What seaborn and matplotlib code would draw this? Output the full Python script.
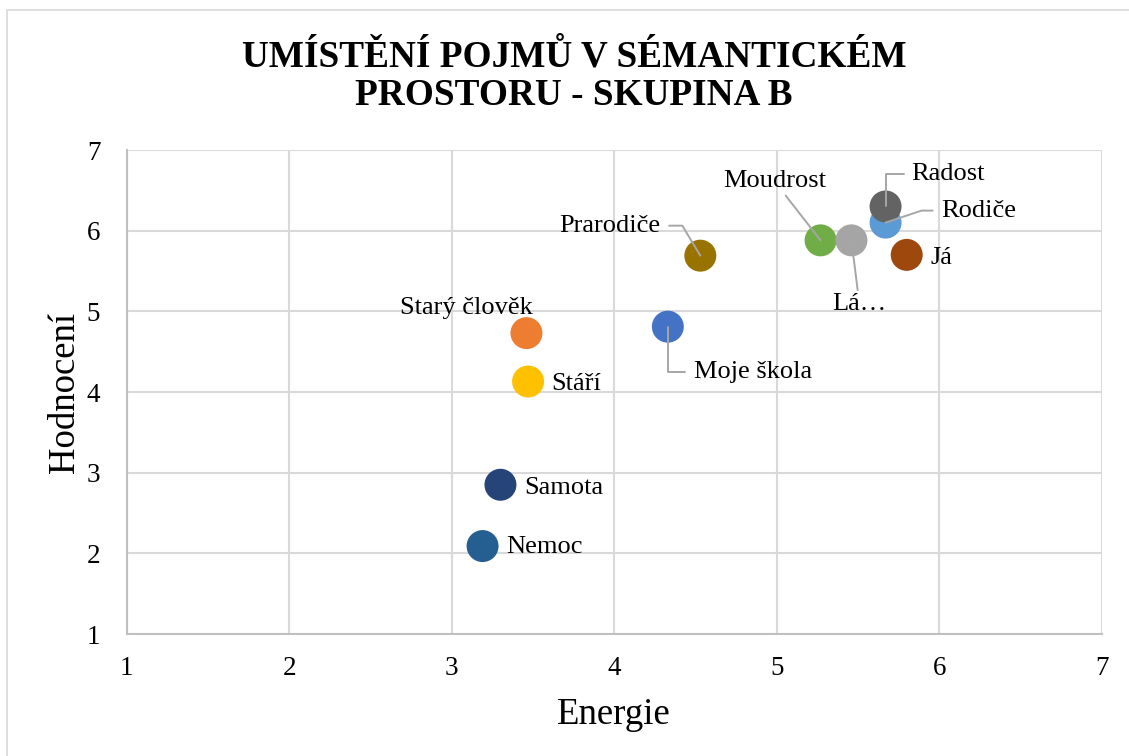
import matplotlib
matplotlib.use("Agg")
import matplotlib.pyplot as plt
from matplotlib.patches import Rectangle
import pandas as pd
import seaborn as sns

# --- data -------------------------------------------------------------
pojmy = ["Moudrost", "Lá…", "Rodiče", "Radost", "Já", "Prarodiče",
         "Moje škola", "Starý člověk", "Stáří", "Samota", "Nemoc"]
energie = [5.27, 5.46, 5.67, 5.67, 5.80, 4.53, 4.33, 3.46, 3.47, 3.30, 3.19]
hodnoceni = [5.88, 5.88, 6.10, 6.30, 5.70, 5.69, 4.81, 4.73, 4.13, 2.85, 2.09]
barvy = ["#70AD47", "#A5A5A5", "#5B9BD5", "#636363", "#9E480E", "#997300",
         "#4472C4", "#ED7D31", "#FFC000", "#264478", "#255E91"]

title_lines = ["UMÍSTĚNÍ POJMŮ V SÉMANTICKÉM", "PROSTORU - SKUPINA B"]
x_label = "Energie"
y_label = "Hodnocení"
ticks = [1, 2, 3, 4, 5, 6, 7]

df = pd.DataFrame({"Pojem": pojmy, "Energie": energie, "Hodnocení": hodnoceni})

# label placement: pixel offset from the point, alignment, leader style
label_layout = {
    "Radost":       dict(off=(26, 32), ha="left", leader="angle,angleA=0,angleB=90,rad=0", relpos=(0, 0.5), shrink=3),
    "Rodiče":       dict(off=(56, 12), ha="left", leader="arc,angleA=180,armA=20,angleB=0,armB=0,rad=0", relpos=(0, 0.5), shrink=4),
    "Moudrost":     dict(off=(-46, 59), ha="center", leader="arc3,rad=0", relpos=(0.5, 0.5), shrink=0),
    "Lá…":          dict(off=(8, -64), ha="center", leader="arc3,rad=0", relpos=(0.5, 0.5), shrink=0),
    "Prarodiče":    dict(off=(-40, 30), ha="right", leader="arc,angleA=0,armA=22,angleB=0,armB=0,rad=0", relpos=(1, 0.5), shrink=4),
    "Moje škola":   dict(off=(26, -45), ha="left", leader="angle,angleA=0,angleB=90,rad=0", relpos=(0, 0.5), shrink=4),
    "Já":           dict(off=(24, -3), ha="left"),
    "Starý člověk": dict(off=(-60, 25), ha="center"),
    "Stáří":        dict(off=(23, -2), ha="left"),
    "Samota":       dict(off=(24, -3), ha="left"),
    "Nemoc":        dict(off=(24, -1), ha="left"),
}

# --- style ------------------------------------------------------------
sns.set_theme(style="white")
plt.rcParams["font.family"] = ["Liberation Serif", "DejaVu Serif"]

W, H = 1129, 756
fig = plt.figure(figsize=(W / 100, H / 100), dpi=100)
fig.patch.set_facecolor("white")

# chart area frame
fig.add_artist(Rectangle((6.5 / W, -0.05), 1.2, 1.05 - 10 / H,
                         transform=fig.transFigure, fill=False,
                         edgecolor="#D9D9D9", linewidth=1.2, zorder=0))

ax = fig.add_axes([126.7 / W, (H - 634) / H, 975 / W, 484 / H])

sns.scatterplot(data=df, x="Energie", y="Hodnocení", hue="Pojem",
                palette=dict(zip(pojmy, barvy)), s=530, linewidth=0,
                alpha=1, legend=False, ax=ax, zorder=3)

ax.set_xlim(ticks[0], ticks[-1])
ax.set_ylim(ticks[0], ticks[-1])
ax.set_xticks(ticks)
ax.set_yticks(ticks)
ax.grid(True, color="#D9D9D9", linewidth=1.5)
ax.set_axisbelow(True)
for side in ("top", "right"):
    ax.spines[side].set_visible(False)
for side in ("left", "bottom"):
    ax.spines[side].set_color("#BFBFBF")
    ax.spines[side].set_linewidth(1.5)

ax.tick_params(axis="x", length=0, pad=16, labelsize=19.5, labelcolor="black")
ax.tick_params(axis="y", length=0, pad=19, labelsize=19.5, labelcolor="black")

ax.set_xlabel(x_label, fontsize=26.5, color="black")
ax.set_ylabel(y_label, fontsize=26.5, color="black")
ax.xaxis.set_label_coords(0.5, -0.131)
ax.yaxis.set_label_coords(-0.0458, 0.5)

# title, two centred lines
for line, base in zip(title_lines, (66.7, 105.0)):
    fig.text(574 / W, 1 - base / H, line, ha="center", va="baseline",
             fontsize=26.8, fontweight="bold", color="black")

# data labels with leader lines
for name, ex, hy in zip(pojmy, energie, hodnoceni):
    spec = label_layout[name]
    kw = {}
    if "leader" in spec:
        kw["arrowprops"] = dict(arrowstyle="-", color="#A6A6A6", linewidth=1.4,
                                connectionstyle=spec["leader"],
                                relpos=spec["relpos"],
                                shrinkA=spec["shrink"], shrinkB=0)
    ax.annotate(name, xy=(ex, hy), xytext=spec["off"], textcoords="offset pixels",
                ha=spec["ha"], va="center", fontsize=19, color="black",
                zorder=5, annotation_clip=False, **kw)

fig.savefig("out.png", dpi=100, facecolor="white")
